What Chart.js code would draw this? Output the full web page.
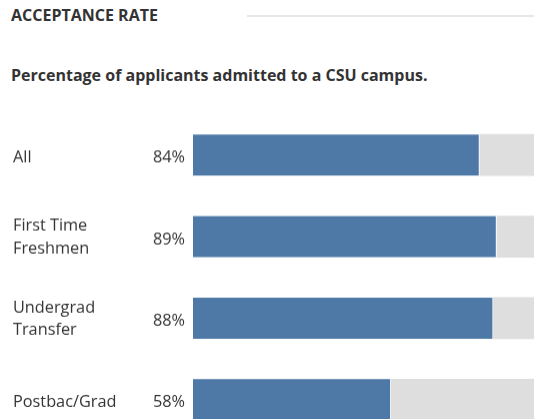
<!DOCTYPE html>
<html>
<head>
<meta charset="utf-8">
<title>Acceptance Rate</title>
<script src="https://cdn.jsdelivr.net/npm/chart.js@4/dist/chart.umd.min.js"></script>
<style>
  html, body { margin: 0; padding: 0; background: #fff; overflow: hidden; }
  body { width: 534px; height: 419px; position: relative; font-family: "Open Sans", "Noto Sans", sans-serif; color: #333; }
  .head { position: absolute; left: 11px; top: 3.5px; font-size: 16px; font-weight: 700; }
  .rule { position: absolute; left: 247px; right: 0; top: 15px; height: 2px; background: #e6e6e6; }
  .sub { position: absolute; left: 11px; top: 63.5px; font-size: 16px; font-weight: 700; }
  #wrap { position: absolute; left: 0; top: 0; width: 534px; height: 439.5px; }
</style>
</head>
<body>
  <div class="head">ACCEPTANCE RATE</div>
  <div class="rule"></div>
  <div class="sub">Percentage of applicants admitted to a CSU campus.</div>
  <div id="wrap"><canvas id="chart"></canvas></div>

<script>
// data
const categories = ['All', ['First Time', 'Freshmen'], ['Undergrad', 'Transfer'], 'Postbac/Grad'];
const admitted = [84, 89, 88, 58];
const notAdmitted = [16, 11, 12, 42];

const textColor = '#333';
const fontFamily = '"Open Sans", "Noto Sans", sans-serif';
const labelFont = '16.3px ' + fontFamily;
const lineGap = 22.4;

// category names at the left edge, percentages right-aligned next to the bars
const rowLabels = {
  id: 'rowLabels',
  afterDatasetsDraw(chart) {
    const ctx = chart.ctx;
    const meta = chart.getDatasetMeta(0);
    ctx.save();
    ctx.font = labelFont;
    ctx.fillStyle = textColor;
    ctx.textBaseline = 'alphabetic';
    meta.data.forEach((bar, i) => {
      const lines = [].concat(categories[i]);
      const n = lines.length;
      ctx.textAlign = 'left';
      lines.forEach((line, k) => {
        const y = bar.y + 5.5 - (n - 1) * lineGap / 2 + k * lineGap + (n === 1 ? 2 : 0);
        ctx.fillText(line, 13, y);
      });
      ctx.textAlign = 'right';
      ctx.fillText(admitted[i] + '%', chart.chartArea.left - 8, bar.y + 7.6);
    });
    ctx.restore();
  }
};

new Chart(document.getElementById('chart'), {
  type: 'bar',
  data: {
    labels: categories,
    datasets: [
      {
        label: 'Admitted',
        data: admitted,
        backgroundColor: '#4e79a7',
        borderColor: '#ffffff',
        borderWidth: { top: 0, bottom: 0, left: 0, right: 1 },
        borderSkipped: false,
        barThickness: 41
      },
      {
        label: 'Not admitted',
        data: notAdmitted,
        backgroundColor: '#dedede',
        borderWidth: 0,
        barThickness: 41
      }
    ]
  },
  options: {
    indexAxis: 'y',
    responsive: true,
    maintainAspectRatio: false,
    animation: false,
    layout: { padding: { top: 114, left: 13, right: 0, bottom: 0 } },
    plugins: {
      legend: { display: false },
      tooltip: { enabled: false }
    },
    scales: {
      x: { stacked: true, min: 0, max: 100, display: false },
      y: {
        stacked: true,
        grid: { display: false },
        border: { display: false },
        ticks: { display: false },
        afterFit(scale) { scale.width = 180; }
      }
    }
  },
  plugins: [rowLabels]
});
</script>
</body>
</html>
